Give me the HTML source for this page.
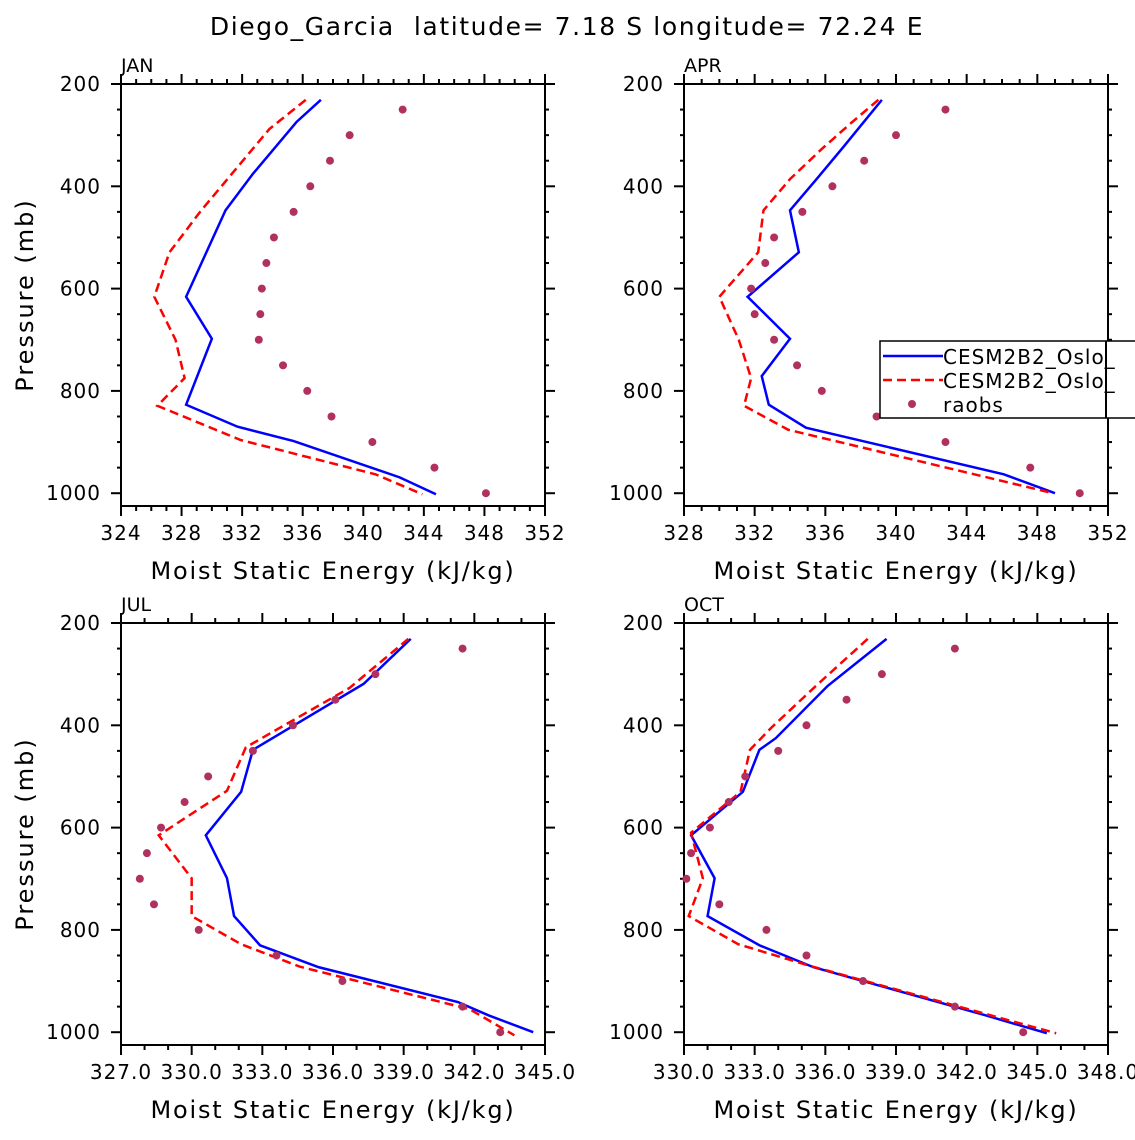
<!DOCTYPE html>
<html><head><meta charset="utf-8"><style>
body{margin:0;background:#fff}
svg text{font-family:"DejaVu Sans","Liberation Sans",sans-serif;fill:#000}
</style></head><body>
<svg id="c" width="1135" height="1135" xmlns="http://www.w3.org/2000/svg">
<text x="567" y="35" font-size="25" letter-spacing="1.6" text-anchor="middle" style="white-space:pre">Diego_Garcia  latitude= 7.18 S longitude= 72.24 E</text>
</svg>
<script>
const panelNames=["JAN","APR","JUL","OCT"];
const xRanges=[[324,352],[328,352],[327,345],[330,348]];
const xMajor=[4,4,3,3];
const xDecimals=[0,0,1,1];
const yTicks=[200,400,600,800,1000];
// JAN
const janBlueP=[231,274,376,447,616,698,827,870,898,969,1002];
const janBlueX=[337.2,335.6,332.7,330.9,328.3,330.0,328.3,331.7,335.4,342.4,344.8];
const janRedP=[231,288,447,529,616,700,775,829,896,963,1002];
const janRedX=[336.2,333.8,329.3,327.2,326.2,327.6,328.2,326.4,331.9,340.8,343.9];
const obsP=[250,300,350,400,450,500,550,600,650,700,750,800,850,900,950,1000];
const janObs=[342.6,339.1,337.8,336.5,335.4,334.1,333.6,333.3,333.2,333.1,334.7,336.3,337.9,340.6,344.7,348.1];
// APR
const aprBlueP=[231,269,324,386,447,529,616,698,771,827,872,963,1000];
const aprBlueX=[339.2,338.3,337.0,335.5,334.0,334.5,331.6,334.0,332.4,332.8,334.9,346.1,349.0];
const aprRedP=[231,278,327,386,447,529,616,700,775,829,876,1000];
const aprRedX=[339.0,337.4,335.8,334.0,332.5,332.2,330.0,331.1,331.8,331.4,333.9,348.9];
const aprObs=[342.8,340.0,338.2,336.4,334.7,333.1,332.6,331.8,332.0,333.1,334.4,335.8,338.9,342.8,347.6,350.4];
// JUL
const julBlueP=[231,319,448,530,615,699,773,830,873,941,967,1000];
const julBlueX=[339.3,337.3,332.6,332.1,330.6,331.5,331.8,332.9,335.4,341.3,342.6,344.5];
const julRedP=[231,327,443,528,615,699,773,828,872,955,1006];
const julRedX=[339.2,336.7,332.3,331.5,328.6,330.0,330.0,332.1,334.6,341.8,343.7];
const julObs=[341.5,337.8,336.1,334.3,332.6,330.7,329.7,328.7,328.1,327.8,328.4,330.3,333.6,336.4,341.5,343.1];
// OCT
const octBlueP=[231,323,425,448,530,615,699,773,830,873,967,1002];
const octBlueX=[338.6,336.1,333.9,333.2,332.5,330.3,331.3,331.0,333.2,335.5,342.8,345.4];
const octRedP=[231,323,405,448,530,610,699,773,828,871,1002];
const octRedX=[337.8,335.6,333.7,332.8,332.4,330.3,330.8,330.2,332.3,335.4,345.8];
const octObs=[341.5,338.4,336.9,335.2,334.0,332.6,331.9,331.1,330.3,330.1,331.5,333.5,335.2,337.6,341.5,344.4];

const blueSeries=[[janBlueX,janBlueP],[aprBlueX,aprBlueP],[julBlueX,julBlueP],[octBlueX,octBlueP]];
const redSeries=[[janRedX,janRedP],[aprRedX,aprRedP],[julRedX,julRedP],[octRedX,octRedP]];
const obsSeries=[janObs,aprObs,julObs,octObs];

const svg=document.getElementById('c');
const NS='http://www.w3.org/2000/svg';
function mk(tag,attrs,parent){const e=document.createElementNS(NS,tag);for(const k in attrs)e.setAttribute(k,attrs[k]);(parent||svg).appendChild(e);return e;}
const boxes=[[121,84],[684,84],[121,623],[684,623]];
const W=424,H=422,Pmin=200,Pmax=1025;
for(let i=0;i<4;i++){
  const [bx,by]=boxes[i];const [x0,x1]=xRanges[i];
  const g=mk('g',{});
  
  
  const X=v=>bx+(v-x0)/(x1-x0)*W;
  const Y=p=>by+(p-Pmin)/(Pmax-Pmin)*H;
  for(let v=x0;v<=x1+1e-6;v+=1){
    const major=Math.abs(((v-x0)/xMajor[i])-Math.round((v-x0)/xMajor[i]))<1e-6;
    const L=major?10:5;
    mk('line',{x1:X(v),x2:X(v),y1:by+H,y2:by+H+L,stroke:'#000','stroke-width':2},g);
    mk('line',{x1:X(v),x2:X(v),y1:by,y2:by-L,stroke:'#000','stroke-width':2},g);
    if(major){const t=mk('text',{x:X(v),y:by+H+34,'font-size':20,'letter-spacing':1,'text-anchor':'middle'},g);t.textContent=v.toFixed(xDecimals[i]);
      
      }
  }
  for(let p=200;p<=1025;p+=50){
    const major=p%200===0;const L=major?10:4;
    mk('line',{x1:bx,x2:bx-L,y1:Y(p),y2:Y(p),stroke:'#000','stroke-width':2},g);
    mk('line',{x1:bx+W,x2:bx+W+L,y1:Y(p),y2:Y(p),stroke:'#000','stroke-width':2},g);
  }
  yTicks.forEach(p=>{const t=mk('text',{x:bx-20,y:Y(p)+7,'font-size':20,'letter-spacing':1,'text-anchor':'end'},g);t.textContent=p;
    
    });
  mk('rect',{x:bx,y:by,width:W,height:H,fill:'none',stroke:'#000','stroke-width':2},g);
  const pl=mk('text',{x:bx,y:by-12,'font-size':19},g);pl.textContent=panelNames[i];
  
  
  const xt=mk('text',{x:bx+W/2,y:by+H+73,'font-size':24,'letter-spacing':1.8,'text-anchor':'middle'},g);xt.textContent='Moist Static Energy (kJ/kg)';
  
  
  if(i%2===0){const yt=mk('text',{x:0,y:0,'font-size':24,'letter-spacing':2,'text-anchor':'middle',transform:`translate(${bx-88},${by+H/2}) rotate(-90)`},g);yt.textContent='Pressure (mb)';
    
    }
  const [bX,bP]=blueSeries[i];
  const bl=mk('polyline',{points:bX.map((v,k)=>X(v)+','+Y(bP[k])).join(' '),fill:'none',stroke:'#0000ff','stroke-width':2.5},g);
  
  
  const [rX,rP]=redSeries[i];
  const rl=mk('polyline',{points:rX.map((v,k)=>X(v)+','+Y(rP[k])).join(' '),fill:'none',stroke:'#ff0000','stroke-width':2.5,'stroke-dasharray':'9,5'},g);
  
  
  obsSeries[i].forEach((v,k)=>{const c=mk('circle',{cx:X(v),cy:Y(obsP[k]),r:4,fill:'#b03060'},g);
    
    });
}
const lg=mk('g',{});


mk('rect',{x:880,y:341,width:270,height:77,fill:'#fff',stroke:'#000','stroke-width':1.5},lg);
mk('line',{x1:883,x2:943,y1:356,y2:356,stroke:'#0000ff','stroke-width':2.5},lg);
mk('line',{x1:883,x2:943,y1:380,y2:380,stroke:'#ff0000','stroke-width':2.5,'stroke-dasharray':'9,5'},lg);
mk('circle',{cx:912,cy:404,r:4,fill:'#b03060'},lg);
[['CESM2B2_Oslo_',364],['CESM2B2_Oslo_',388],['raobs',412]].forEach(([s,y])=>{const t=mk('text',{x:943,y:y,'font-size':20,'letter-spacing':1},lg);t.textContent=s;
  
  });
mk('line',{x1:1106,x2:1106,y1:341,y2:418,stroke:'#000','stroke-width':2},lg);
</script>
</body></html>
